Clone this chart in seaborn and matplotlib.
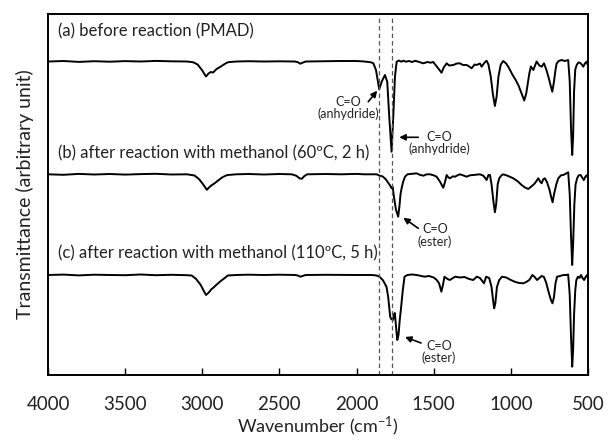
import numpy as np
import pandas as pd
import seaborn as sns
import matplotlib.pyplot as plt

# (a) before reaction (PMAD) - wavenumber (cm-1) and transmittance (arb.)
wn_a = [4000, 3900, 3800, 3700, 3600, 3500, 3400, 3300, 3200, 3100, 3060, 3030, 3000, 2976, 2960,
        2945, 2930, 2907, 2880, 2850, 2833, 2780, 2700, 2600, 2500, 2400, 2380, 2365, 2350, 2330,
        2200, 2100, 2000, 1950, 1920, 1902, 1891, 1874, 1853, 1837, 1816, 1801, 1788, 1773, 1762,
        1751, 1740, 1725, 1710, 1695, 1680, 1660, 1640, 1620, 1600, 1568, 1540, 1520, 1503, 1485,
        1465, 1449, 1435, 1416, 1400, 1373, 1350, 1330, 1310, 1286, 1270, 1254, 1235, 1222, 1200,
        1189, 1170, 1157, 1145, 1130, 1115, 1103, 1092, 1080, 1065, 1049, 1030, 1010, 990, 970,
        950, 930, 913, 900, 890, 880, 870, 854, 833, 815, 800, 785, 770, 755, 742, 731, 720, 710,
        703, 690, 671, 650, 628, 618, 610, 602, 596, 590, 582, 573, 562, 552, 540, 530, 520, 509, 500]
t_a = [100, 100.5, 99.6, 100.3, 99.8, 100.4, 100, 100.6, 100.2, 100, 99.3, 97, 91, 85, 88,
       89.5, 89, 92.5, 95, 98, 99.3, 100, 100.3, 100, 100.2, 100, 99.3, 97.8, 98.8, 100,
       100.3, 100.5, 100.5, 100, 99.5, 99, 98.2, 91.5, 72.2, 79.8, 86.5, 79.8, 44.8, 9.8, 44.8,
       84.8, 99.8, 101, 99.8, 100.8, 99.8, 100.5, 99.5, 100.7, 99.8, 98.2, 99.5, 98.8, 99.5, 96,
       92, 88.8, 94, 98.2, 96, 96.5, 98, 98.2, 96.5, 96.5, 95, 93.2, 97, 96.5, 98,
       94.8, 99, 100.8, 97, 85, 66, 55.5, 65, 85, 97, 100.5, 98, 93, 87, 82,
       76, 68, 61, 68, 78, 88, 95, 91.5, 100, 96, 94.8, 98.2, 92, 84, 76, 69.8, 80, 92,
       98, 100.5, 101.5, 100.5, 101.5, 80, 35, 6.5, 25, 70, 92, 96.5, 99, 98.8, 97, 94.8, 98, 99.8, 96]

# (b) after reaction with methanol (60 C, 2 h)
wn_b = [4000, 3900, 3800, 3700, 3600, 3500, 3400, 3300, 3200, 3100, 3050, 3020, 2995, 2970, 2955,
        2940, 2920, 2900, 2870, 2840, 2780, 2700, 2600, 2500, 2420, 2390, 2370, 2355, 2340, 2320,
        2200, 2100, 2000, 1950, 1900, 1870, 1848, 1830, 1810, 1795, 1783, 1773, 1766, 1758, 1745,
        1730, 1722, 1715, 1708, 1697, 1686, 1670, 1640, 1611, 1590, 1567, 1545, 1524, 1500, 1481,
        1459, 1438, 1427, 1416, 1405, 1395, 1375, 1362, 1345, 1330, 1310, 1286, 1265, 1243, 1220,
        1200, 1178, 1165, 1157, 1145, 1135, 1125, 1112, 1103, 1095, 1085, 1075, 1060, 1049, 1020,
        984, 955, 930, 910, 887, 865, 844, 822, 811, 800, 790, 779, 765, 750, 738, 729, 720, 705,
        692, 675, 660, 645, 628, 618, 610, 602, 596, 588, 580, 570, 560, 548, 538, 527, 515, 505, 500]
t_b = [100, 99.5, 100.4, 99.8, 100.3, 99.7, 100.2, 100.5, 99.8, 100, 98.8, 95, 90, 84.5, 87,
       89, 91, 93.5, 97, 99.2, 100, 100.3, 99.8, 100.3, 100, 98.5, 96, 95.5, 98, 100,
       100.3, 100, 100.4, 100, 100, 100, 98.5, 97.8, 95, 91.5, 89, 86, 87.6, 78, 65,
       57.6, 68, 80, 86, 93, 97.6, 100, 100.5, 101, 99.5, 98.6, 100, 100, 99, 97.6,
       92.6, 86.6, 92, 99.3, 97, 96, 98, 97.6, 99, 100, 99, 97.6, 99, 99.3, 99.7,
       100, 98.6, 96, 94.3, 99.3, 99.3, 90, 72, 62, 70, 90, 96, 99, 100, 98.5,
       96, 93, 89.3, 87, 85.3, 88, 91, 96, 93, 91, 95, 96, 92, 85, 77, 72, 80, 90,
       96, 99, 99.3, 100.5, 102, 80, 40, 9.3, 30, 70, 90, 96, 99, 99.3, 97, 94.3, 98, 99.3, 96]

# (c) after reaction with methanol (110 C, 5 h)
wn_c = [4000, 3900, 3800, 3700, 3600, 3500, 3400, 3300, 3200, 3100, 3069, 3040, 3010, 2990, 2976,
        2965, 2955, 2940, 2930, 2910, 2880, 2850, 2835, 2780, 2700, 2600, 2500, 2400, 2380, 2365,
        2350, 2330, 2200, 2000, 1950, 1900, 1870, 1852, 1830, 1806, 1795, 1782, 1775, 1764, 1758,
        1752, 1745, 1736, 1728, 1720, 1713, 1700, 1689, 1670, 1640, 1610, 1580, 1560, 1530, 1500,
        1480, 1465, 1450, 1440, 1430, 1410, 1395, 1375, 1360, 1330, 1300, 1270, 1244, 1220, 1200,
        1185, 1174, 1160, 1140, 1125, 1115, 1108, 1100, 1090, 1075, 1057, 1030, 1000, 970, 945,
        919, 900, 880, 860, 845, 830, 815, 800, 785, 770, 755, 740, 730, 720, 710, 700, 680,
        660, 640, 628, 618, 610, 602, 596, 590, 582, 575, 565, 555, 545, 535, 525, 515, 505, 500]
t_c = [100, 100.4, 99.6, 100.3, 100, 99.8, 100.5, 99.8, 100.2, 99.8, 99.5, 96, 90, 84, 80,
       81.5, 83, 86, 87, 90, 94, 97.5, 99.5, 100, 100.3, 100, 100.3, 100, 99.5, 98.3,
       99, 100, 100.2, 100, 100, 100, 99.5, 98.3, 95, 88.3, 78, 58.3, 56, 55, 60,
       62, 50, 35, 40, 55, 65, 85, 98.3, 100, 100.5, 100, 99, 98.3, 99, 97.5,
       95, 91.7, 83.3, 90, 98.3, 96, 95, 97, 98.3, 97.5, 98, 96, 95, 98.3, 97,
       94, 91.7, 98.3, 97, 88, 75, 66.7, 72, 88, 95, 98.3, 97.5, 95, 93, 92,
       91.7, 93, 95, 100, 98, 95, 97, 99, 98, 92, 83, 75, 71.7, 78, 92, 98.3, 99,
       100, 100, 100.5, 80, 40, 8.3, 25, 60, 85, 95, 98.3, 97, 100, 97, 95, 98, 100, 97]

samples = ["a", "b", "c"]
offsets = [213.5, 100.7, 0.0]
sample_labels = ["(a) before reaction (PMAD)",
                 "(b) after reaction with methanol (60ºC, 2 h)",
                 "(c) after reaction with methanol (110ºC, 5 h)"]
label_y = [343.3, 222, 122]
carbonyl_lines = [1853, 1772]

frames = []
for s, wn, t, off in zip(samples, [wn_a, wn_b, wn_c], [t_a, t_b, t_c], offsets):
    frames.append(pd.DataFrame({"wn": wn, "T": np.array(t) + off, "sample": s}))
df = pd.concat(frames, ignore_index=True)

sns.set_theme(style="white")
plt.rcParams["font.family"] = ["Lato", "DejaVu Sans"]
plt.rcParams["mathtext.default"] = "regular"

fig = plt.figure(figsize=(6.08, 4.42), dpi=100)
ax = fig.add_axes([0.079, 0.1516, 0.888, 0.8167])

sns.lineplot(data=df, x="wn", y="T", hue="sample", palette=["black"] * 3,
             estimator=None, sort=False, linewidth=1.4, legend=False, ax=ax)

for v in carbonyl_lines:
    ax.axvline(v, ymin=0, ymax=0.989, color="#555555", lw=0.9, ls=(0, (3.5, 2.5)))

for lab, y in zip(sample_labels, label_y):
    ax.text(3935, y, lab, fontsize=12, ha="left", va="center", color="#222222")

# carbonyl annotations
arrow = dict(arrowstyle="-|>", color="black", lw=1.2, mutation_scale=9, shrinkA=0, shrinkB=0)
note = dict(fontsize=9, ha="center", va="center", linespacing=0.95, color="#222222")
ax.annotate("", xy=(1866, 284.3), xytext=(1924, 273.3), arrowprops=arrow)
ax.text(2056, 267, "C=O\n(anhydride)", **note)
ax.annotate("", xy=(1723, 237.7), xytext=(1600, 237.7), arrowprops=arrow)
ax.text(1466, 232, "C=O\n(anhydride)", **note)
ax.annotate("", xy=(1697, 157.3), xytext=(1600, 146.7), arrowprops=arrow)
ax.text(1492, 139.5, "C=O\n(ester)", **note)
ax.annotate("", xy=(1686, 38), xytext=(1582, 32), arrowprops=arrow)
ax.text(1466, 23, "C=O\n(ester)", **note)

ax.set_xlim(4000, 500)
ax.set_ylim(0, 361)
ax.set_xticks([4000, 3500, 3000, 2500, 2000, 1500, 1000, 500])
ax.set_yticks([])
ax.tick_params(axis="x", direction="in", length=5, width=1, pad=15, labelsize=13.5,
               bottom=True, top=False, colors="black", labelcolor="#222222")
ax.set_xlabel("Wavenumber (cm$^{-1}$)", fontsize=13, labelpad=1, color="#222222")
ax.set_ylabel("Transmittance (arbitrary unit)", fontsize=14, labelpad=10, color="#222222")
for sp in ax.spines.values():
    sp.set_color("black")
    sp.set_linewidth(1.4)

fig.savefig("out.png", dpi=100)
